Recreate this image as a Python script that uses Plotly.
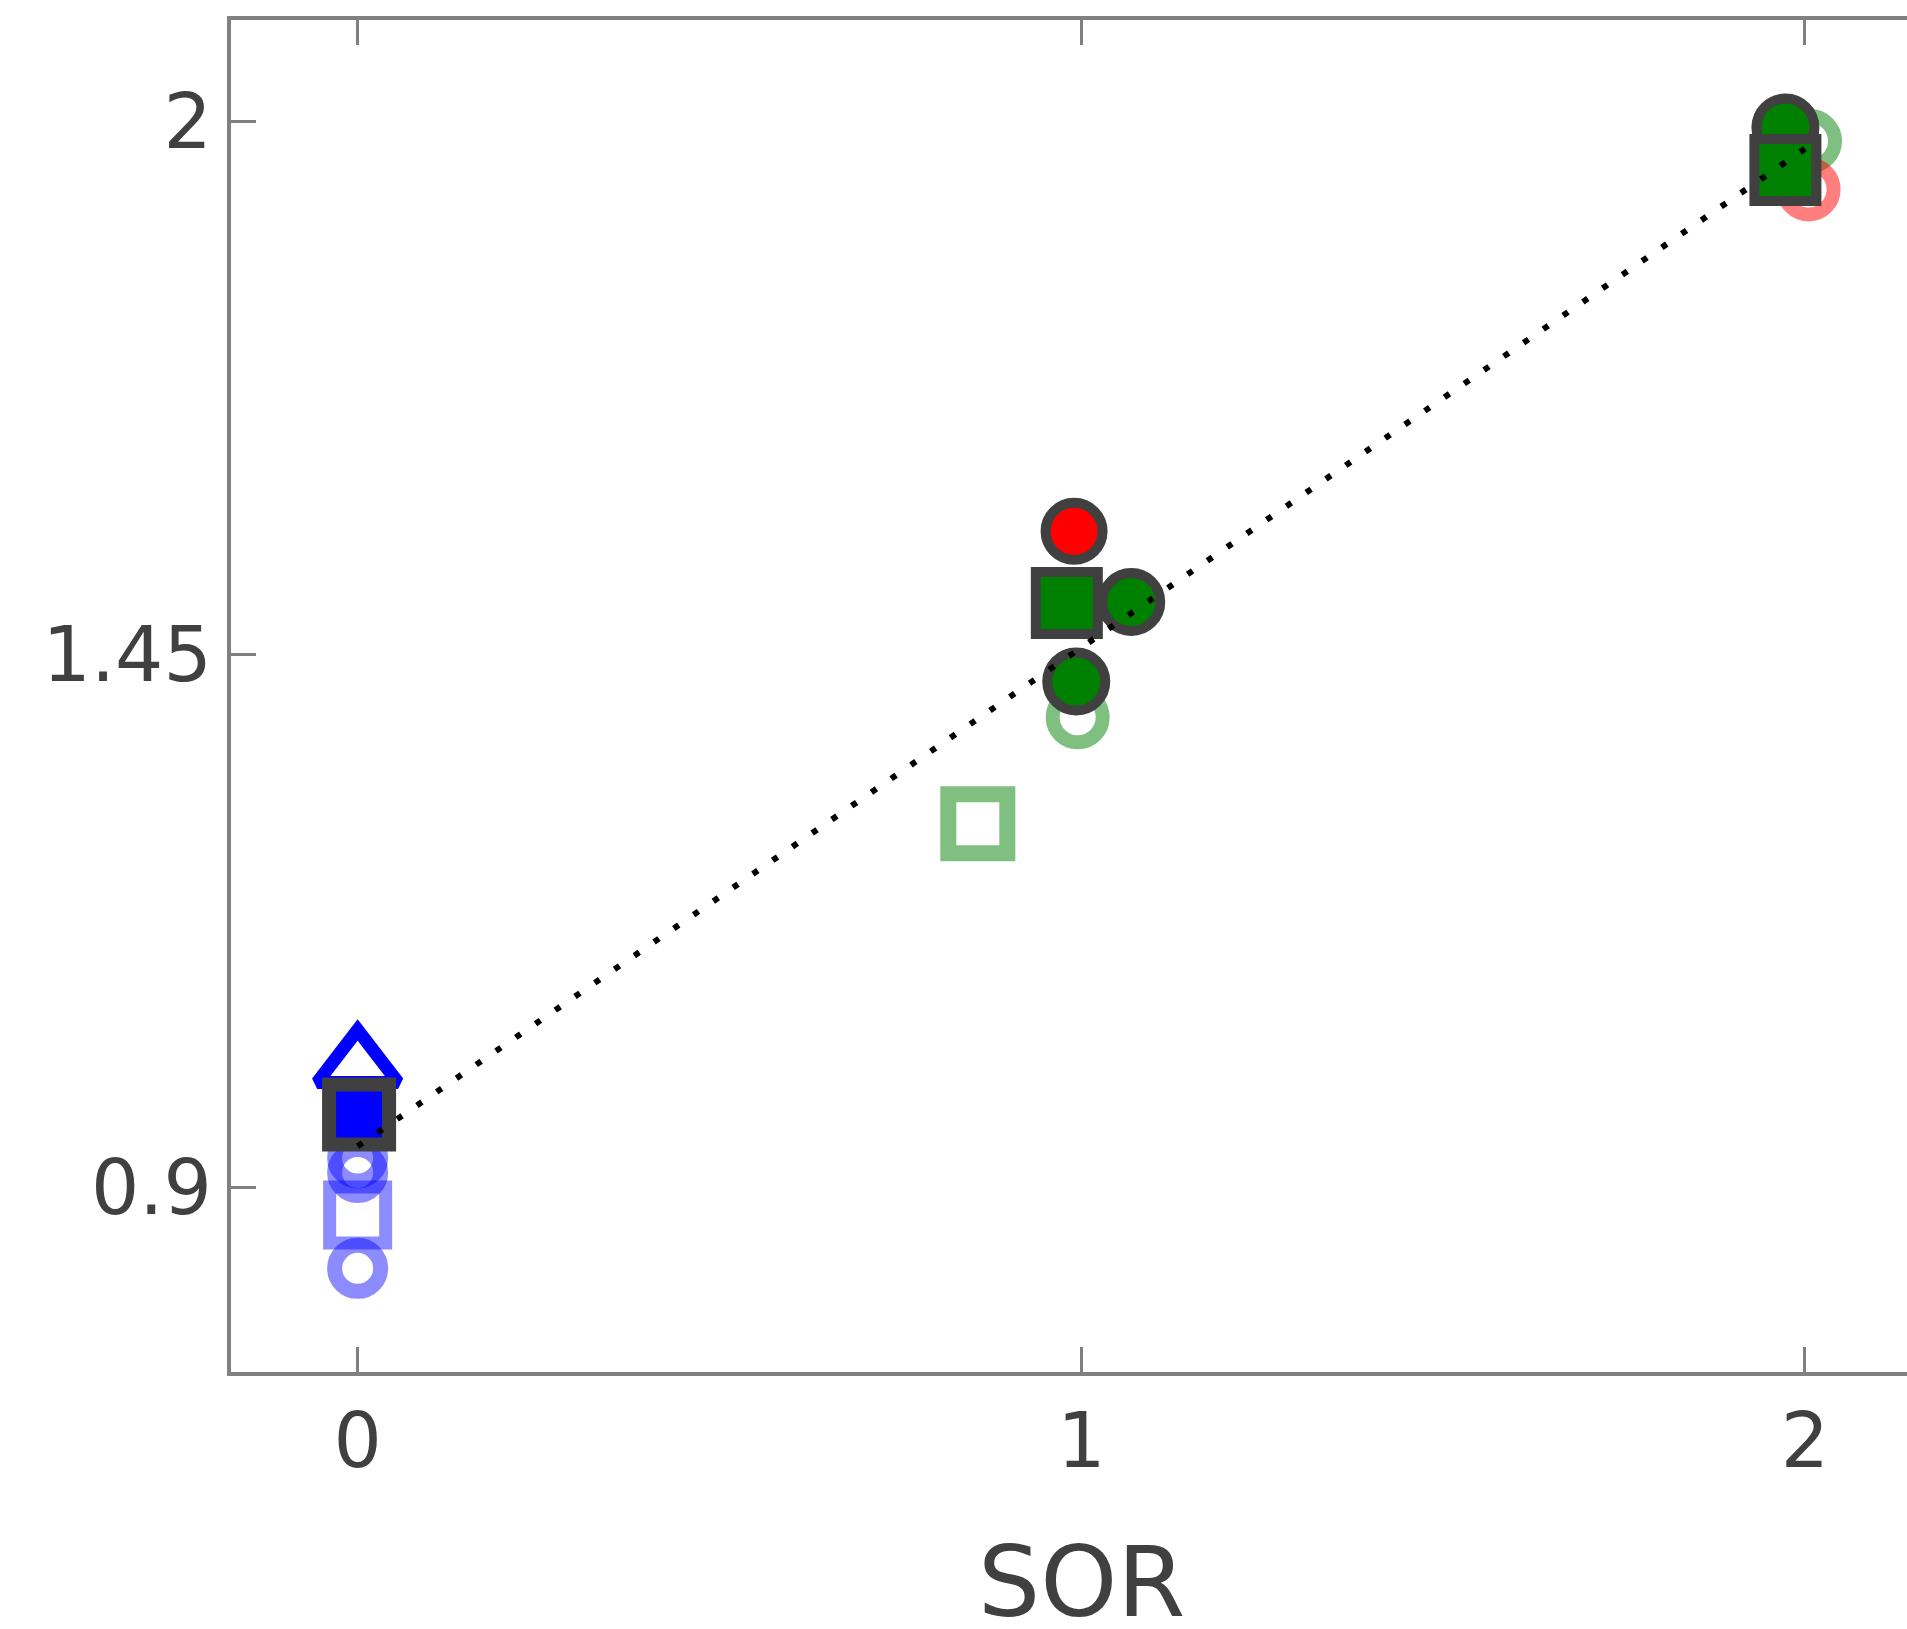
import plotly.graph_objects as go

# ---- data ----
x_ticks = [0, 1, 2]
x_tick_text = ["0", "1", "2"]
y_ticks = [0.9, 1.45, 2.0]
y_tick_text = ["0.9", "1.45", "2"]
x_title = "SOR"

# translucent open markers
blue_open_circle_x = [0, 0, 0]
blue_open_circle_y = [0.930, 0.915, 0.816]
blue_open_square_x = [0]
blue_open_square_y = [0.871]
green_open_circle_x = [0.995, 2.007]
green_open_circle_y = [1.385, 1.98]
green_open_square_x = [0.857]
green_open_square_y = [1.275]
red_open_circle_x = [2.005]
red_open_circle_y = [1.93]

# solid markers
blue_triangle_x = [0]
blue_triangle_y = [1.026]
blue_square_x = [0.002]
blue_square_y = [0.975]
red_circle_x = [0.99]
red_circle_y = [1.577]
green_circle_x = [1.069, 0.993, 1.973]
green_circle_y = [1.504, 1.422, 1.994]
green_square_x = [0.98, 1.973]
green_square_y = [1.503, 1.950]

# dotted fit line
fit_x = [0, 2]
fit_y = [0.942, 1.972]

EDGE = "#404040"

fig = go.Figure()

def open_trace(x, y, color, symbol, size, lw):
    fig.add_trace(go.Scatter(
        x=x, y=y, mode="markers",
        marker=dict(symbol=symbol, size=size, color=color,
                    line=dict(width=lw, color=color)),
        showlegend=False, hoverinfo="skip"))

open_trace(blue_open_circle_x, blue_open_circle_y, "rgba(0,0,255,0.45)", "circle-open", 46, 15)
open_trace(blue_open_square_x, blue_open_square_y, "rgba(0,0,255,0.45)", "square-open", 56, 13)
open_trace(green_open_circle_x, green_open_circle_y, "rgba(0,128,0,0.5)", "circle-open", 50, 14)
open_trace(green_open_square_x, green_open_square_y, "rgba(0,128,0,0.5)", "square-open", 59, 16)
open_trace(red_open_circle_x, red_open_circle_y, "rgba(255,0,0,0.5)", "circle-open", 50, 14)

# blue open triangle (opaque)
fig.add_trace(go.Scatter(
    x=blue_triangle_x, y=blue_triangle_y, mode="markers",
    marker=dict(symbol="triangle-up-open", size=70, color="#0000ff",
                line=dict(width=13, color="#0000ff")),
    showlegend=False, hoverinfo="skip"))

def solid_trace(x, y, color, symbol, size, lw=10):
    fig.add_trace(go.Scatter(
        x=x, y=y, mode="markers",
        marker=dict(symbol=symbol, size=size, color=color,
                    line=dict(width=lw, color=EDGE)),
        showlegend=False, hoverinfo="skip"))

solid_trace(blue_square_x, blue_square_y, "#0000ff", "square", 60, 14)
solid_trace(red_circle_x, red_circle_y, "#ff0000", "circle", 57)
solid_trace(green_circle_x, green_circle_y, "#008000", "circle", 58)
solid_trace(green_square_x, green_square_y, "#008000", "square", 62)

fig.add_trace(go.Scatter(
    x=fit_x, y=fit_y, mode="lines",
    line=dict(color="black", width=6, dash="6px,18px"),
    showlegend=False, hoverinfo="skip"))

axis_common = dict(
    showgrid=False, zeroline=False, showline=True,
    linecolor="#808080", linewidth=4,
    ticks="inside", ticklen=25, tickwidth=3, tickcolor="#808080",
    tickfont=dict(family="DejaVu Sans", size=76, color="#404040"),
)

fig.update_layout(
    width=1907, height=1629,
    margin=dict(l=231, r=0, t=20, b=257, pad=0),
    paper_bgcolor="white", plot_bgcolor="white",
    xaxis=dict(range=[-0.175, 2.141], tickvals=x_ticks, ticktext=x_tick_text,
               mirror="allticks", ticklabelstandoff=0, **axis_common),
    yaxis=dict(range=[0.709, 2.105], tickvals=y_ticks, ticktext=y_tick_text,
               mirror=False, ticklabelstandoff=0, **axis_common),
    annotations=[dict(text=x_title, x=1, xref="x", y=-0.155, yref="paper",
                      xanchor="center", yanchor="middle", showarrow=False,
                      font=dict(family="DejaVu Sans", size=98, color="#404040"))],
)

fig.write_html("out.html")
